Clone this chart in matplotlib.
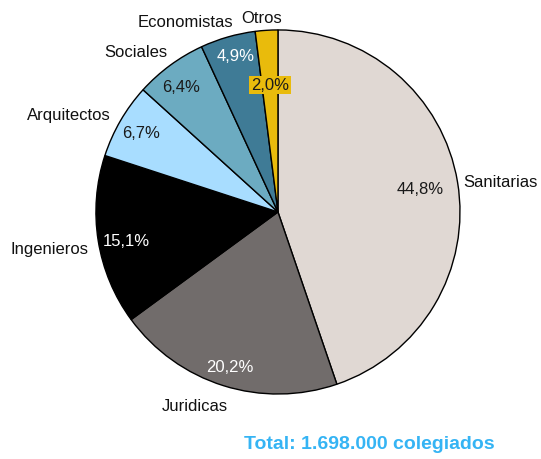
import numpy as np
import matplotlib.pyplot as plt

############### Data
categorias = ['Sanitarias', 'Juridicas', 'Ingenieros', 'Arquitectos', 'Sociales', 'Economistas', 'Otros']
porcentajes = [44.8, 20.2, 15.1, 6.7, 6.4, 4.9, 2.0]
colores = ['#E0D8D3', '#716C6B', '#000000', '#A8DDFF', '#6CABC1', '#3F7B96', '#E9BB0C']
color_pct = ['#1a1a1a', 'white', 'white', '#1a1a1a', '#1a1a1a', 'white', '#1a1a1a']
titulo = 'Total: 1.698.000 colegiados'

plt.rcParams['font.family'] = ['Liberation Sans', 'DejaVu Sans']

############### Figure
fig = plt.figure(figsize=(5.41, 4.60), dpi=100)
ax = fig.add_axes([0, 0, 1, 1])
wedges, _ = ax.pie(porcentajes, colors=colores, startangle=90, counterclock=False,
                   radius=1, wedgeprops=dict(edgecolor='black', linewidth=1))
ax.set_xlim(-1.527, 1.445)
ax.set_ylim(-1.357, 1.170)
ax.set_aspect('equal')
ax.axis('off')

############### Labels
# percent label: radius factor, angle shift (deg)
r_pct = [0.79, 0.89, 0.85, 0.87, 0.87, 0.89, 0.70]
d_pct = [0, 0, 1.5, 0, 1.5, -1.0, 0]
# outer label: radius factor, angle shift (deg), alignment
r_ext = [1.03, 1.155, 1.06, 1.064, 1.07, 1.163, 1.074]
d_ext = [0, -5.7, 1.8, 0, -1.7, 9.8, 1.2]
ha_ext = ['left', 'center', 'right', 'right', 'right', 'center', 'center']

for i, w in enumerate(wedges):
    mid = (w.theta1 + w.theta2) / 2
    a = np.deg2rad(mid + d_pct[i])
    txt = ('%.1f%%' % porcentajes[i]).replace('.', ',')
    kw = {}
    if categorias[i] == 'Otros':
        kw['bbox'] = dict(boxstyle='square,pad=0.1', fc=colores[i], ec='none')
    ax.text(r_pct[i] * np.cos(a), r_pct[i] * np.sin(a), txt, ha='center', va='center',
            fontsize=12, color=color_pct[i], **kw)
    b = np.deg2rad(mid + d_ext[i])
    ax.text(r_ext[i] * np.cos(b), r_ext[i] * np.sin(b), categorias[i], ha=ha_ext[i],
            va='center', fontsize=12, color='#111111')

ax.text(0.5, -1.27, titulo, ha='center', va='center', fontsize=14, fontweight='bold',
        color='#35B4F4')

fig.savefig('out.png', dpi=100)
